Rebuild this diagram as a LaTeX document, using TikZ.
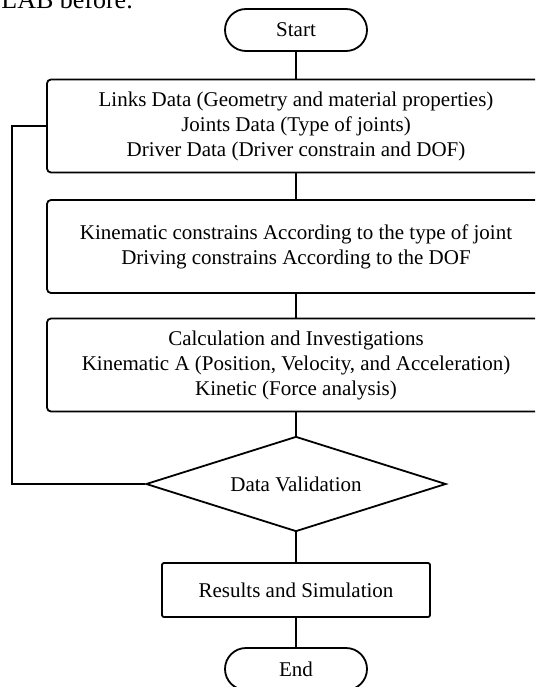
\documentclass[tikz,border=0pt]{standalone}
\usepackage{fontspec}
\setmainfont{Liberation Serif}
\usetikzlibrary{shapes.geometric,positioning}

\begin{document}
\begin{tikzpicture}[x=1pt,y=-1pt,line width=1.8pt,
	every node/.style={font=\fontsize{21}{25}\selectfont, align=center},
	terminal/.style={draw, rounded corners=21pt, minimum width=142pt, minimum height=42pt, inner sep=0pt},
	databox/.style={draw, rounded corners=4pt, minimum width=498pt, minimum height=93pt, inner sep=0pt},
	decision/.style={draw, diamond, aspect=3.1, minimum width=300pt, minimum height=95pt, inner sep=0pt},
	resbox/.style={draw, rounded corners=2pt, minimum width=268pt, minimum height=54pt, inner sep=0pt}]
		\useasboundingbox (0,0) rectangle (535,687);
		\clip (0,0) rectangle (535,687);
		\node[anchor=base east, font=\fontsize{26}{30}\selectfont] (prev) at (137,9) {MATLAB before.};
		\node[terminal] (start) at (296,30) {Start};
		\node[databox] (links) at (296,126) {Links Data (Geometry and material properties)\\ Joints Data (Type of joints)\\ Driver Data (Driver constrain and DOF)};
		\node[databox] (constr) at (296,246.5) {Kinematic constrains According to the type of joint\\ Driving constrains According to the DOF};
		\node[databox] (calc) at (296,365) {Calculation and Investigations\\ Kinematic A (Position, Velocity, and Acceleration)\\ Kinetic (Force analysis)};
		\node[decision] (valid) at (296,484) {Data Validation};
		\node[resbox] (results) at (296,590) {Results and Simulation};
		\node[terminal] (stop) at (296,669) {End};
		\draw (start) -- (links);
		\draw (links) -- (constr);
		\draw (constr) -- (calc);
		\draw (calc) -- (valid);
		\draw (valid) -- (results);
		\draw (results) -- (stop);
		\draw (links.west) -- ++(-34,0) |- (valid.west);
\end{tikzpicture}
\end{document}
